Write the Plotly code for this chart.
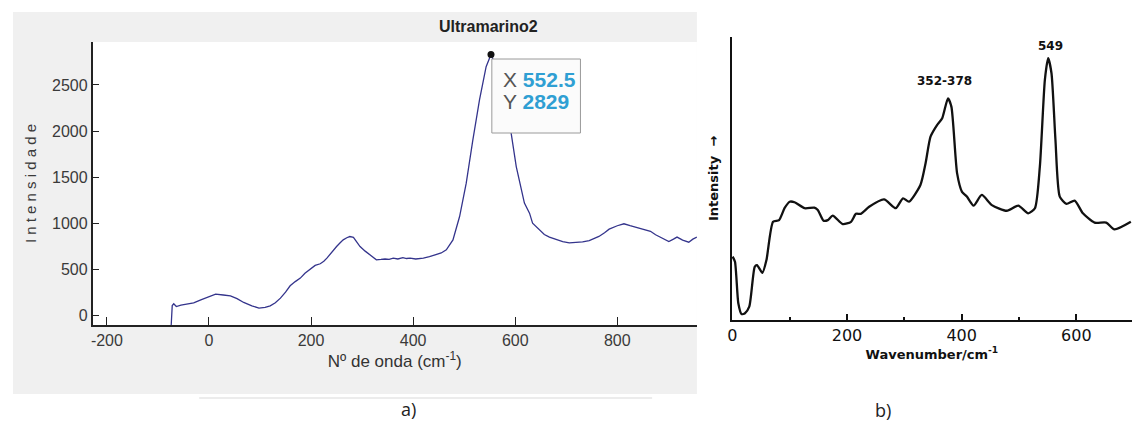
import plotly.graph_objects as go

W, H = 1132, 437

# ---------------- data: panel a (Ultramarino2) ----------------
a_x = [-74, -73.5, -72, -69, -64, -55, -42, -30, -16, 0, 13, 28, 42, 55, 68, 84, 98, 110, 120,
       130, 140, 150, 159, 169, 179, 188, 198, 208, 218, 225, 231, 240, 250, 257, 263, 270, 276, 283,
       290, 296, 306, 316, 328, 337, 345, 353, 361, 370, 380, 387, 394, 405, 420, 432, 445, 455,
       465, 478, 491, 504, 517, 530, 543, 552.5, 562, 575, 592, 602, 618, 628, 634, 647, 657, 667,
       680, 693, 706, 719, 732, 745, 764, 775, 784, 800, 813, 825, 836, 855, 865, 875, 890, 901,
       910, 917, 928, 940, 948, 956]
a_y = [-100, 60, 110, 130, 100, 115, 130, 140, 173, 210, 235, 225, 216, 185, 144, 108, 83, 90, 108,
       140, 191, 255, 325, 370, 408, 460, 505, 545, 563, 590, 624, 690, 750, 790, 822, 845, 858, 850,
       800, 750, 700, 660, 606, 610, 615, 610, 624, 615, 630, 620, 624, 615, 624, 640, 660, 680,
       714, 822, 1075, 1436, 1905, 2338, 2698, 2829, 2700, 2420, 1977, 1616, 1220, 1111, 1003, 930, 880, 851,
       825, 804, 790, 793, 800, 815, 859, 900, 938, 975, 996, 975, 960, 930, 915, 877, 840, 804,
       830, 852, 820, 797, 830, 852]
a_xticks = [-200, 0, 200, 400, 600, 800]
a_xtext = ["-200", "0", "200", "400", "600", "800"]
a_yticks = [0, 500, 1000, 1500, 2000, 2500]
peak_x, peak_y = 552.5, 2829

# ---------------- data: panel b (reference spectrum) ----------------
b_x = [0.5, 4.6, 10.4, 16, 22, 29.5, 39, 43, 52.5, 59.5, 71, 81.5, 91, 100, 108.5, 126, 143, 149,
       159, 166.5, 175, 192.5, 207, 215.5, 224, 238.6, 264.6, 285, 297.6, 308, 328, 337, 345.6, 357,
       366, 376, 382, 392, 400.5, 409, 420.7, 435, 452.6, 478.6, 498.7, 516, 527.7, 536.3, 545,
       550.8, 556.6, 563.5, 571, 582.6, 597, 611.4, 631.7, 652, 666.4, 695]
b_y = [22.4, 20.6, 5.9, 2.1, 2.4, 4.7, 18.8, 19.4, 16.7, 21.2, 34.7, 35.3, 39.5, 41.8, 41.6, 39.5,
       39.7, 38.9, 35.1, 35.3, 36.9, 33.9, 34.7, 37.5, 37.5, 40.0, 42.6, 39.5, 43.0, 41.8, 47.7,
       55.4, 64.8, 68.9, 71.3, 78.3, 75.4, 51.8, 45.3, 43.6, 40.4, 44.2, 40.6, 38.6, 40.4, 37.7,
       39.5, 54.2, 84.8, 92.5, 87.2, 63.6, 43.6, 41.0, 42.2, 37.7, 34.4, 34.4, 32.0, 34.7]
b_xticks = [0, 200, 400, 600]
b_labels = [(370, 84.5, "352-378"), (554, 96.8, "549")]


def px(x):
    return x / W


def py(y):
    return 1 - y / H


fig = go.Figure()

fig.add_trace(go.Scatter(x=a_x, y=a_y, mode="lines", line=dict(color="#34348c", width=1.3),
                         xaxis="x", yaxis="y", showlegend=False, hoverinfo="skip"))
fig.add_trace(go.Scatter(x=[peak_x], y=[peak_y], mode="markers",
                         marker=dict(color="#111111", size=7), xaxis="x", yaxis="y",
                         showlegend=False, hoverinfo="skip"))
fig.add_trace(go.Scatter(x=b_x, y=b_y, mode="lines", line=dict(color="#111111", width=2.3, shape="spline", smoothing=0.6),
                         xaxis="x2", yaxis="y2", showlegend=False, hoverinfo="skip"))

axfont = dict(family="Liberation Sans, Arial, sans-serif", size=16, color="#3a3a3a")
bfont = dict(family="DejaVu Sans, sans-serif", size=16, color="#111111")

fig.update_layout(
    width=W, height=H,
    margin=dict(l=0, r=0, t=0, b=0),
    paper_bgcolor="white", plot_bgcolor="rgba(0,0,0,0)",
    xaxis=dict(domain=[px(88), px(695)], range=[-228, 956], tickvals=a_xticks, ticktext=a_xtext,
               ticks="inside", ticklen=8, tickcolor="#222", tickwidth=1,
               showline=True, linecolor="#222", linewidth=1.5, showgrid=False, zeroline=False,
               tickfont=axfont, anchor="y",
               title=dict(text="Nº de onda (cm<sup>-1</sup>)", font=dict(family="Liberation Sans, Arial, sans-serif", size=17, color="#333"), standoff=6)),
    yaxis=dict(domain=[py(325), py(42)], range=[-100, 2965], tickvals=a_yticks,
               ticks="inside", ticklen=7, tickcolor="#222", tickwidth=1,
               showline=True, linecolor="#222", linewidth=1.5, showgrid=False, zeroline=False,
               tickfont=axfont, anchor="x",
               title=dict(text="I n t e n s i d a d e", font=dict(family="Liberation Sans, Arial, sans-serif", size=15, color="#3a3a3a"), standoff=12)),
    xaxis2=dict(domain=[px(730), 1.0], range=[-1, 697], tickvals=b_xticks,
                ticks="inside", ticklen=6, tickcolor="#111", tickwidth=1.5,
                minor=dict(dtick=100, ticks="inside", ticklen=3, tickcolor="#111", tickwidth=1.5),
                showline=True, linecolor="#111", linewidth=1.8, showgrid=False, zeroline=False,
                tickfont=bfont, anchor="y2",
                title=dict(text="<b>Wavenumber/cm<sup>-1</sup></b>", font=dict(family="DejaVu Sans, sans-serif", size=13, color="#111"), standoff=4)),
    yaxis2=dict(domain=[py(320), py(37)], range=[0, 100], showticklabels=False, ticks="",
                showline=True, linecolor="#111", linewidth=1.8, showgrid=False, zeroline=False,
                anchor="x2",
                title=dict(text="<b>Intensity  →</b>", font=dict(family="DejaVu Sans, sans-serif", size=13, color="#111111"), standoff=8)),
    shapes=[
        dict(type="rect", xref="paper", yref="paper", x0=px(8), x1=px(695), y0=py(394), y1=py(12),
             fillcolor="#f0f0f0", line=dict(width=0), layer="below"),
        dict(type="rect", xref="paper", yref="paper", x0=px(88), x1=px(695), y0=py(325), y1=py(42),
             fillcolor="#ffffff", line=dict(width=0), layer="below"),
        dict(type="line", xref="paper", yref="paper", x0=px(195), x1=px(650), y0=py(398), y1=py(398),
             line=dict(color="#e6e6e6", width=1.5), layer="below"),
        dict(type="rect", xref="paper", yref="paper", x0=px(489), x1=px(578), y0=py(133), y1=py(59),
             fillcolor="#fbfbfb", line=dict(color="#9a9a9a", width=1), layer="above"),
    ],
    annotations=[
        dict(text="<b>Ultramarino2</b>", xref="paper", yref="paper", x=px(486), y=py(26),
             showarrow=False, xanchor="center", yanchor="middle",
             font=dict(family="Liberation Sans, Arial, sans-serif", size=16, color="#222")),
        dict(text="<span style='color:#555'>X</span> <b><span style='color:#2f9fd3'>552.5</span></b>",
             xref="paper", yref="paper", x=px(498), y=py(80), showarrow=False, xanchor="left", yanchor="middle",
             font=dict(family="Liberation Sans Narrow, Arial Narrow, Liberation Sans, sans-serif", size=21, color="#555")),
        dict(text="<span style='color:#555'>Y</span> <b><span style='color:#2f9fd3'>2829</span></b>",
             xref="paper", yref="paper", x=px(498), y=py(101), showarrow=False, xanchor="left", yanchor="middle",
             font=dict(family="Liberation Sans Narrow, Arial Narrow, Liberation Sans, sans-serif", size=21, color="#555")),
        dict(text="a)", xref="paper", yref="paper", x=px(405), y=py(423), showarrow=False,
             font=dict(family="Open Sans, Liberation Sans, sans-serif", size=18, color="#222")),
        dict(text="b)", xref="paper", yref="paper", x=px(892), y=py(424), showarrow=False,
             font=dict(family="Open Sans, Liberation Sans, sans-serif", size=18, color="#222")),
    ] + [
        dict(text=f"<b>{t}</b>", x=x, y=y, xref="x2", yref="y2", showarrow=False,
             xanchor="center", yanchor="middle",
             font=dict(family="DejaVu Sans, sans-serif", size=12, color="#111"))
        for (x, y, t) in b_labels
    ],
)

fig.write_html("out.html")
